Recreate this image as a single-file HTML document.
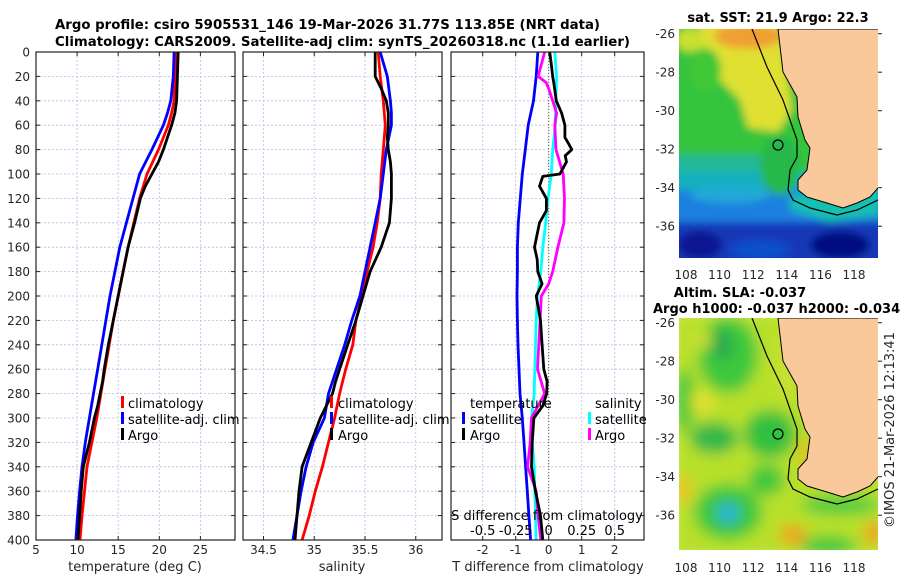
<!DOCTYPE html>
<html><head><meta charset="utf-8">
<style>
html,body{margin:0;padding:0;background:#fff;}
svg{display:block;font-family:"DejaVu Sans","Liberation Sans",sans-serif;}
.tk{font-size:12px;fill:#262626;}
.tx{font-size:13px;fill:#262626;}
.tt{font-size:13px;font-weight:bold;fill:#000;}
.lg{font-size:13px;fill:#000;}
</style></head>
<body>
<svg id="fig" width="900" height="580" viewBox="0 0 900 580">
<defs>
<clipPath id="c1"><rect x="36" y="52" width="199" height="488"/></clipPath>
<clipPath id="c2"><rect x="243" y="52" width="199" height="488"/></clipPath>
<clipPath id="c3"><rect x="451" y="52" width="193" height="488"/></clipPath>
<clipPath id="cm1"><rect x="679" y="29" width="199" height="229"/></clipPath>
<clipPath id="cm2"><rect x="679" y="318" width="199" height="232"/></clipPath>
<filter id="bl" x="-20%" y="-20%" width="140%" height="140%"><feGaussianBlur stdDeviation="4"/></filter>
<filter id="bl2" x="-20%" y="-20%" width="140%" height="140%"><feGaussianBlur stdDeviation="7"/></filter>
</defs>

<text class="tt" x="55" y="29" textLength="545" lengthAdjust="spacingAndGlyphs">Argo profile: csiro 5905531_146 19-Mar-2026 31.77S 113.85E (NRT data)</text>
<text class="tt" x="55" y="46" textLength="575" lengthAdjust="spacingAndGlyphs">Climatology: CARS2009. Satellite-adj clim: synTS_20260318.nc (1.1d earlier)</text>

<g id="grids"></g>
<g id="series"></g>
<g id="frames"></g>

<g>
<rect x="121" y="396" width="3" height="12" fill="#f00"/><text class="lg" x="128" y="408">climatology</text>
<rect x="121" y="412" width="3" height="12" fill="#00f"/><text class="lg" x="128" y="424">satellite-adj. clim</text>
<rect x="121" y="428" width="3" height="12" fill="#000"/><text class="lg" x="128" y="440">Argo</text>
</g>
<g>
<rect x="330" y="396" width="3" height="12" fill="#f00"/><text class="lg" x="338" y="408">climatology</text>
<rect x="330" y="412" width="3" height="12" fill="#00f"/><text class="lg" x="338" y="424">satellite-adj. clim</text>
<rect x="330" y="428" width="3" height="12" fill="#000"/><text class="lg" x="338" y="440">Argo</text>
</g>
<g>
<text class="lg" x="470" y="408">temperature</text>
<rect x="462" y="412" width="3" height="12" fill="#00f"/><text class="lg" x="470" y="424">satellite</text>
<rect x="462" y="428" width="3" height="12" fill="#000"/><text class="lg" x="470" y="440">Argo</text>
<text class="lg" x="595" y="408">salinity</text>
<rect x="588" y="412" width="3" height="12" fill="#0ff"/><text class="lg" x="595" y="424">satellite</text>
<rect x="588" y="428" width="3" height="12" fill="#f0f"/><text class="lg" x="595" y="440">Argo</text>
</g>
<text class="lg" x="547" y="520" text-anchor="middle">S difference from climatology</text>

<text class="tx" x="135" y="571" text-anchor="middle">temperature (deg C)</text>
<text class="tx" x="342" y="571" text-anchor="middle">salinity</text>
<text class="tx" x="548" y="571" text-anchor="middle">T difference from climatology</text>

<text class="tt" x="778" y="22" text-anchor="middle">sat. SST: 21.9 Argo: 22.3</text>
<g clip-path="url(#cm1)">
<g filter="url(#bl)">
<rect x="670" y="20" width="220" height="250" fill="#34c43c"/>
<polygon points="700,20 780,20 792,110 778,132 748,128 740,100 722,82 700,62" fill="#dfe030"/>
<ellipse cx="748" cy="36" rx="34" ry="13" fill="#f0a030"/>
<ellipse cx="690" cy="40" rx="14" ry="12" fill="#c8e030"/>
<ellipse cx="705" cy="70" rx="16" ry="22" fill="#40c838"/>
<rect x="670" y="155" width="120" height="22" fill="#20b89a"/>
<rect x="670" y="172" width="220" height="22" fill="#18b0c0"/>
<rect x="670" y="190" width="220" height="36" fill="#1e80e0"/>
<ellipse cx="730" cy="195" rx="40" ry="8" fill="#20a8d8"/>
<rect x="670" y="222" width="220" height="48" fill="#1838b8"/>
<ellipse cx="700" cy="245" rx="22" ry="14" fill="#081890"/>
<ellipse cx="840" cy="245" rx="30" ry="14" fill="#000a80"/>
<ellipse cx="760" cy="250" rx="30" ry="10" fill="#1050c8"/>
<ellipse cx="780" cy="165" rx="20" ry="30" fill="#28b848"/>
<polygon points="790,195 880,185 880,215 830,222 790,210" fill="#18c0b0"/>
</g>
<polygon points="778,29 783,72 797,97 798,117 805,140 810,148 807,170 798,180 798,190 807,197 827,203 843,208 857,203 870,197 878,188 880,188 880,29" fill="#f9c99b" stroke="#000" stroke-width="1"/>
<polyline points="752,29 767,67 783,100 797,140 797,157 790,170 788,190 793,200 810,208 837,215 857,210 878,200" fill="none" stroke="#000" stroke-width="1.2"/>
<circle cx="778" cy="145" r="5" fill="none" stroke="#000" stroke-width="1.2"/>
</g>

<text class="tt" x="740" y="297" text-anchor="middle">Altim. SLA: -0.037</text>
<text class="tt" x="653" y="313">Argo h1000: -0.037 h2000: -0.034</text>
<g clip-path="url(#cm2)">
<g filter="url(#bl2)">
<rect x="670" y="310" width="220" height="250" fill="#b8e02c"/>
<ellipse cx="728" cy="355" rx="30" ry="38" fill="#3cc83c"/>
<ellipse cx="722" cy="345" rx="10" ry="16" fill="#20a850"/>
<ellipse cx="684" cy="400" rx="10" ry="32" fill="#40c83c"/>
<ellipse cx="714" cy="438" rx="24" ry="16" fill="#30b848"/>
<ellipse cx="770" cy="434" rx="26" ry="24" fill="#30c040"/>
<ellipse cx="728" cy="512" rx="34" ry="28" fill="#3cc83c"/>
<ellipse cx="728" cy="513" rx="11" ry="10" fill="#20b0e0"/>
<ellipse cx="766" cy="480" rx="18" ry="16" fill="#40c83c"/>
<ellipse cx="828" cy="546" rx="28" ry="10" fill="#40c840"/>
<ellipse cx="840" cy="505" rx="40" ry="10" fill="#50cc40"/>
<ellipse cx="702" cy="402" rx="12" ry="10" fill="#e8e030"/>
<ellipse cx="805" cy="452" rx="5" ry="16" fill="#f0b020"/>
<ellipse cx="793" cy="535" rx="14" ry="10" fill="#f0a020"/>
<ellipse cx="874" cy="533" rx="10" ry="12" fill="#f0a020"/>
<ellipse cx="683" cy="490" rx="8" ry="14" fill="#f0c020"/>
<ellipse cx="788" cy="360" rx="12" ry="40" fill="#c8e030"/>
<ellipse cx="700" cy="340" rx="12" ry="10" fill="#c8e030"/>
</g>
<g transform="translate(0,289)">
<polygon points="778,29 783,72 797,97 798,117 805,140 810,148 807,170 798,180 798,190 807,197 827,203 843,208 857,203 870,197 878,188 880,188 880,29" fill="#f9c99b" stroke="#000" stroke-width="1"/>
<polyline points="752,29 767,67 783,100 797,140 797,157 790,170 788,190 793,200 810,208 837,215 857,210 878,200" fill="none" stroke="#000" stroke-width="1.2"/>
<circle cx="778" cy="145" r="5" fill="none" stroke="#000" stroke-width="1.2"/>
</g>
</g>
<g id="mapticks"></g>
<text class="tx" transform="translate(894,430) rotate(-90)" text-anchor="middle">©IMOS 21-Mar-2026 12:13:41</text>
</svg>

<script>
// ---------- data ----------
const depthT = [0,20,40,50,60,80,100,120,140,160,180,200,220,240,260,280,300,320,340,360,380,400];
const tempClim = [22.0,21.9,21.8,21.5,21.1,19.9,18.5,17.6,16.9,16.2,15.6,15.0,14.4,13.9,13.4,12.9,12.4,11.8,11.2,10.9,10.6,10.35];
const tempSat  = [21.8,21.7,21.4,21.0,20.5,19.1,17.6,16.8,16.0,15.2,14.6,14.0,13.5,13.0,12.5,12.0,11.5,11.0,10.6,10.3,10.05,9.85];
const depthArgo = [0,10,20,30,40,50,60,70,80,90,100,110,120,140,160,180,200,220,240,260,270,280,290,300,320,340,360,380,400];
const tempArgo = [22.3,22.25,22.2,22.15,22.1,21.9,21.5,21.0,20.5,19.9,19.1,18.3,17.7,17.0,16.2,15.6,15.0,14.4,13.8,13.3,13.1,12.8,12.5,12.1,11.5,10.75,10.5,10.3,10.1];
const salClim = [35.63,35.65,35.68,35.69,35.70,35.68,35.66,35.65,35.62,35.58,35.52,35.47,35.41,35.38,35.31,35.25,35.20,35.14,35.08,35.01,34.95,34.88];
const salSat  = [35.65,35.72,35.75,35.76,35.76,35.71,35.68,35.65,35.60,35.55,35.50,35.45,35.37,35.30,35.22,35.14,35.10,34.99,34.92,34.87,34.83,34.79];
const salArgo = [35.60,35.60,35.60,35.66,35.71,35.73,35.73,35.72,35.73,35.75,35.76,35.76,35.76,35.74,35.66,35.55,35.48,35.41,35.33,35.25,35.21,35.18,35.12,35.06,34.97,34.88,34.85,34.83,34.81];
const depthD = [0,10,20,25,30,40,50,60,70,75,80,85,90,100,102,110,120,130,140,160,170,180,190,200,220,240,260,270,280,290,300,320,340,360,380,400];
const dTArgo = [0.03,0.08,0.12,0.15,0.18,0.23,0.39,0.49,0.49,0.6,0.7,0.5,0.54,0.34,-0.18,-0.28,-0.07,-0.07,-0.28,-0.43,-0.35,-0.33,-0.2,-0.38,-0.25,-0.2,-0.15,-0.05,-0.06,-0.18,-0.45,-0.5,-0.52,-0.4,-0.25,-0.18];
const depthDS = [0,20,40,60,80,100,120,140,160,180,200,220,240,260,280,300,320,340,360,380,400];
const dTSat = [-0.33,-0.38,-0.46,-0.62,-0.71,-0.8,-0.86,-0.92,-0.95,-0.95,-0.96,-0.95,-0.93,-0.9,-0.87,-0.8,-0.75,-0.7,-0.65,-0.6,-0.55];
const dSSat = [0.046,0.06,0.054,0.05,0.03,0.02,-0.005,-0.023,-0.045,-0.06,-0.085,-0.095,-0.1,-0.105,-0.11,-0.13,-0.125,-0.11,-0.105,-0.1,-0.095];
const depthMS = [0,10,20,25,30,40,50,60,80,100,120,140,160,180,190,200,220,240,260,280,290,300,320,340,360,380,400];
const dSArgo = [-0.03,-0.055,-0.08,-0.02,0.0,0.03,0.06,0.046,0.055,0.11,0.12,0.115,0.07,0.03,0.0,-0.056,-0.065,-0.075,-0.085,-0.03,-0.08,-0.13,-0.14,-0.16,-0.095,-0.08,-0.06];
const depthTicks = [0,20,40,60,80,100,120,140,160,180,200,220,240,260,280,300,320,340,360,380,400];
const tTicks = [5,10,15,20,25];
const sTicks = [34.5,35,35.5,36];
const dTicks = [-2,-1,0,1,2];
const dsTicks = [-0.5,-0.25,0,0.25,0.5];
const dsTickLabels = ['-0.5','-0.25','0','0.25','0.5'];
const lonTicks = [108,110,112,114,116,118];
const latTicks = [-26,-28,-30,-32,-34,-36];

// ---------- axes ----------
const yD = d => 52 + d*1.22;
const xT = v => 36 + (v-5)*8.22;
const xS = v => 263.5 + (v-34.5)*101.5;
const xD = v => 548.7 + v*33;
const xDS = v => 548.7 + v*132;
const lonX = v => 686 + (v-108)*16.8;
const latY = v => 33.7 + (-26 - v)*19.25;

const NS = 'http://www.w3.org/2000/svg';
function mk(tag, attrs, parent){
  const e = document.createElementNS(NS, tag);
  for (const k in attrs) e.setAttribute(k, attrs[k]);
  parent.appendChild(e); return e;
}
const grids = document.getElementById('grids');
const series = document.getElementById('series');
const frames = document.getElementById('frames');

const panels = [
  {x0:36,x1:235,ticks:tTicks,labels:tTicks.map(String),xf:xT,name:'temperature'},
  {x0:243,x1:442,ticks:sTicks,labels:sTicks.map(String),xf:xS,name:'salinity'},
  {x0:451,x1:644,ticks:dTicks,labels:dTicks.map(String),xf:xD,name:'difference'}
];
panels.forEach(p=>{
  depthTicks.forEach(d=>{
    const y = yD(d);
    const g = mk('line',{x1:p.x0,x2:p.x1,y1:y,y2:y,stroke:'#b8bce8','stroke-width':0.8,'stroke-dasharray':'2,2'},grids);
    
    
    mk('line',{x1:p.x0,x2:p.x0+4,y1:y,y2:y,stroke:'#222','stroke-width':1},frames);
    mk('line',{x1:p.x1-4,x2:p.x1,y1:y,y2:y,stroke:'#222','stroke-width':1},frames);
  });
  p.ticks.forEach((v,i)=>{
    const x = p.xf(v);
    if (x > p.x0+1 && x < p.x1-1){
      const g = mk('line',{x1:x,x2:x,y1:52,y2:540,stroke:'#b8bce8','stroke-width':0.8,'stroke-dasharray':'2,2'},grids);
      
      
    }
    mk('line',{x1:x,x2:x,y1:540,y2:536,stroke:'#222','stroke-width':1},frames);
    mk('line',{x1:x,x2:x,y1:52,y2:56,stroke:'#222','stroke-width':1},frames);
    const t = mk('text',{x:x,y:554,'text-anchor':'middle',class:'tk'},frames);
    t.textContent = p.labels[i];
    
    
  });
  const r = mk('rect',{x:p.x0,y:52,width:p.x1-p.x0,height:488,fill:'none',stroke:'#222','stroke-width':1.2},frames);
  
  
});
depthTicks.forEach(d=>{
  const t = mk('text',{x:30,y:yD(d)+4.5,'text-anchor':'end',class:'tk'},frames);
  t.textContent = String(d);
  
  
});
dsTicks.forEach((v,i)=>{
  const t = mk('text',{x:xDS(v),y:535,'text-anchor':'middle',class:'lg'},frames);
  t.textContent = dsTickLabels[i];
  
  
});
const z = mk('line',{x1:xD(0),x2:xD(0),y1:52,y2:540,stroke:'#6a5a3a','stroke-width':1,'stroke-dasharray':'1,2'},grids);



function line(depths, vals, xf, color, clip, name){
  const pts = vals.map((v,i)=> xf(v).toFixed(1)+','+yD(depths[i]).toFixed(1)).join(' ');
  const pl = mk('polyline',{points:pts,fill:'none',stroke:color,'stroke-width':2.8,'stroke-linejoin':'round','clip-path':'url(#'+clip+')'},series);
  
  
}
line(depthT, tempClim, xT, '#f00', 'c1', 'temperature-climatology-line');
line(depthT, tempSat, xT, '#00f', 'c1', 'temperature-satellite-line');
line(depthArgo, tempArgo, xT, '#000', 'c1', 'temperature-argo-line');
line(depthT, salClim, xS, '#f00', 'c2', 'salinity-climatology-line');
line(depthT, salSat, xS, '#00f', 'c2', 'salinity-satellite-line');
line(depthArgo, salArgo, xS, '#000', 'c2', 'salinity-argo-line');
line(depthDS, dTSat, xD, '#00f', 'c3', 'temp-diff-satellite-line');
line(depthDS, dSSat, xDS, '#0ff', 'c3', 'sal-diff-satellite-line');
line(depthMS, dSArgo, xDS, '#f0f', 'c3', 'sal-diff-argo-line');
line(depthD, dTArgo, xD, '#000', 'c3', 'temp-diff-argo-line');

const mt = document.getElementById('mapticks');
[[0,'sst'],[289,'sla']].forEach(([off,nm])=>{
  lonTicks.forEach(v=>{
    const x = lonX(v);
    const t = mk('text',{x:x,y:(off ? 572 : 279),'text-anchor':'middle',class:'tk'},mt);
    t.textContent = String(v);
    
    
  });
  latTicks.forEach(v=>{
    const y = latY(v)+off;
    const t = mk('text',{x:675,y:y+4.5,'text-anchor':'end',class:'tk'},mt);
    t.textContent = String(v);
    
    
    mk('line',{x1:878,x2:882,y1:y,y2:y,stroke:'#222','stroke-width':1},mt);
  });
});
</script>
</body></html>
